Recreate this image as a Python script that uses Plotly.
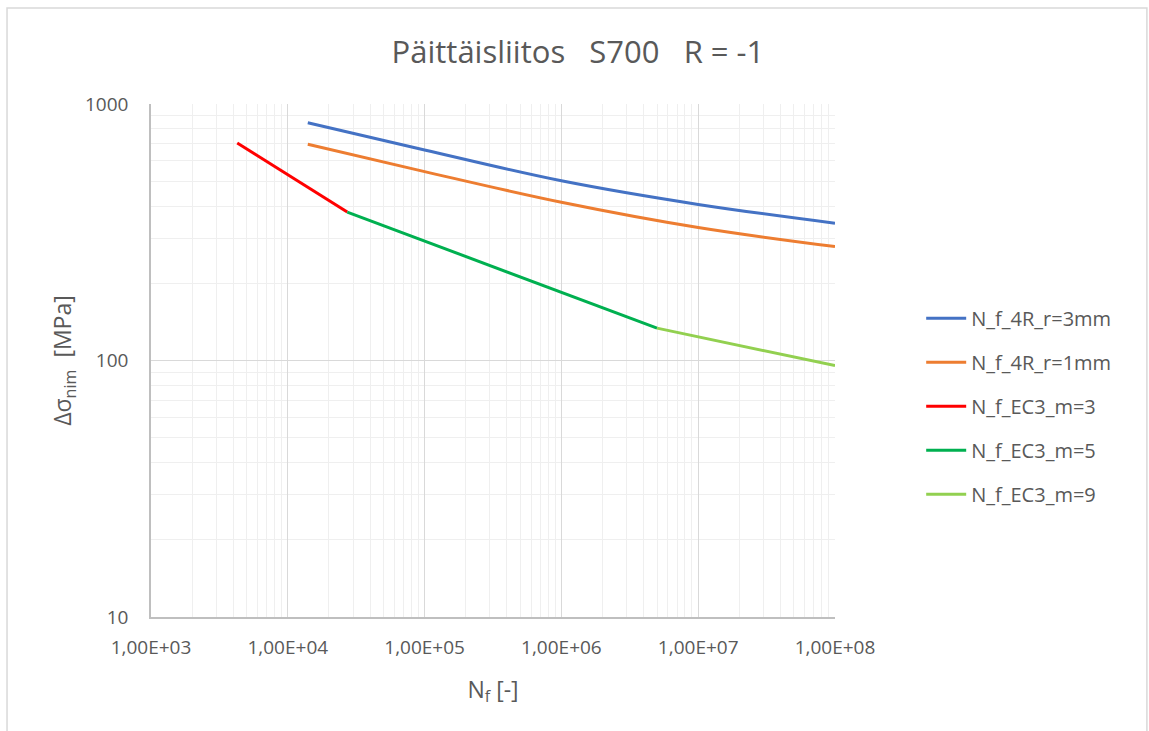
import plotly.graph_objects as go

# S-N curves: cycles to failure N_f vs nominal stress range (MPa)
n_4r = [1.4e4, 1e5, 1e6, 1e7, 1e8]
s_4r_r3 = [845, 662, 502, 406, 343]
s_4r_r1 = [697, 545, 414, 330, 278]

n_ec3_m3 = [4.27e3, 2.72e4]
s_ec3_m3 = [705, 379]

n_ec3_m5 = [2.72e4, 5e6]
s_ec3_m5 = [379, 133.7]

n_ec3_m9 = [5e6, 1e8]
s_ec3_m9 = [133.7, 95.5]

x_decades = [1e3, 1e4, 1e5, 1e6, 1e7, 1e8]
x_ticklabels = ["1,00E+03", "1,00E+04", "1,00E+05", "1,00E+06", "1,00E+07", "1,00E+08"]
y_decades = [10, 100, 1000]
y_ticklabels = ["10", "100", "1000"]

series = [
    ("N_f_4R_r=3mm", n_4r, s_4r_r3, "#4472C4", "spline"),
    ("N_f_4R_r=1mm", n_4r, s_4r_r1, "#ED7D31", "spline"),
    ("N_f_EC3_m=3", n_ec3_m3, s_ec3_m3, "#FF0000", "linear"),
    ("N_f_EC3_m=5", n_ec3_m5, s_ec3_m5, "#00B050", "linear"),
    ("N_f_EC3_m=9", n_ec3_m9, s_ec3_m9, "#92D050", "linear"),
]

fig = go.Figure()
for name, xs, ys, color, shape in series:
    fig.add_trace(go.Scatter(
        x=xs, y=ys, mode="lines", name=name, legendgroup=name,
        line=dict(color=color, width=3, shape=shape, smoothing=1.0),
    ))

x_minor = [d * k for d in x_decades[:-1] for k in range(2, 10)]
y_minor = [d * k for d in y_decades[:-1] for k in range(2, 10)]

text_color = "#595959"
font_family = "Open Sans, Noto Sans, sans-serif"

fig.update_layout(
    width=1149, height=731,
    paper_bgcolor="white", plot_bgcolor="white",
    margin=dict(l=151, r=314, t=104, b=114),
    title=dict(
        text="Päittäisliitos   S700   R = -1",
        x=0.503, xanchor="center", xref="container",
        y=0.928, yanchor="middle", yref="container",
        font=dict(family=font_family, size=31, color=text_color),
    ),
    font=dict(family=font_family, color=text_color, size=18),
    legend=dict(
        x=1.126, xanchor="left", y=0.411, yanchor="middle",
        font=dict(size=20, color=text_color),
        tracegroupgap=15, itemwidth=40,
        bgcolor="rgba(0,0,0,0)",
    ),
    showlegend=True,
    shapes=[dict(
        type="rect", xref="paper", yref="paper",
        x0=-0.2105, x1=1.456, y0=-0.3, y1=1.187,
        line=dict(color="#d9d9d9", width=1.5), layer="below",
    )],
)

fig.update_xaxes(
    type="log", range=[3, 8],
    tickmode="array", tickvals=x_decades, ticktext=x_ticklabels,
    tickfont=dict(size=19, color=text_color), ticklabelstandoff=12,
    showgrid=True, gridcolor="#d9d9d9", gridwidth=1,
    minor=dict(tickmode="array", tickvals=x_minor, showgrid=True,
               gridcolor="#efefef", gridwidth=1, ticks=""),
    showline=True, linecolor="#bfbfbf", linewidth=1.5,
    ticks="", ticklen=0, zeroline=False,
    title=dict(text="N<sub>f</sub> [-]", font=dict(size=23, color=text_color), standoff=23),
)
fig.update_yaxes(
    type="log", range=[1, 3],
    tickmode="array", tickvals=y_decades, ticktext=y_ticklabels,
    tickfont=dict(size=19, color=text_color), ticklabelstandoff=17,
    showgrid=True, gridcolor="#d9d9d9", gridwidth=1,
    minor=dict(tickmode="array", tickvals=y_minor, showgrid=True,
               gridcolor="#efefef", gridwidth=1, ticks=""),
    showline=True, linecolor="#bfbfbf", linewidth=1.5,
    ticks="", ticklen=0, zeroline=False,
    title=dict(text="Δσ<sub>nim</sub>  [MPa]", font=dict(size=23, color=text_color), standoff=7),
)

fig.write_html("out.html")
